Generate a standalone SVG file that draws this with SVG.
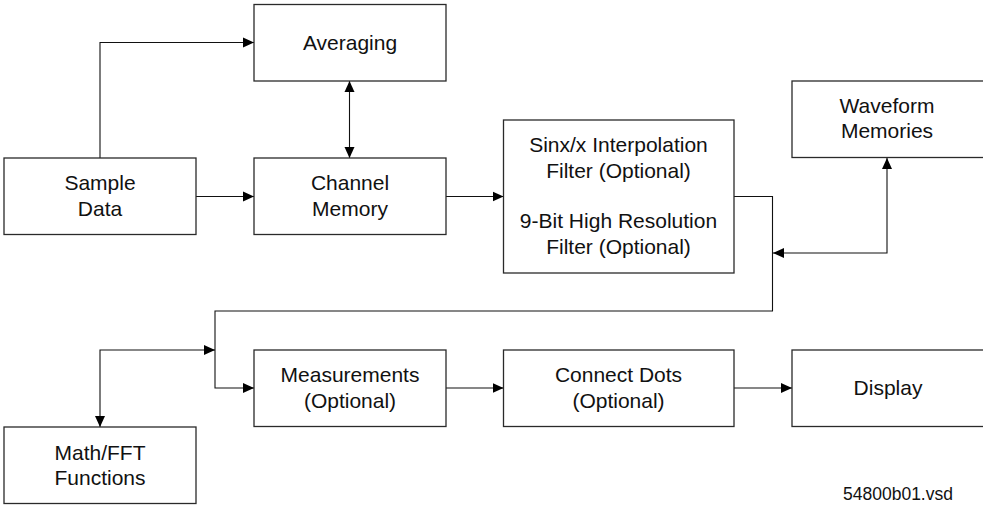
<svg xmlns="http://www.w3.org/2000/svg" width="983" height="506" viewBox="0 0 983 506">
<defs>
<marker id="arr" markerUnits="userSpaceOnUse" markerWidth="12" markerHeight="11" refX="11" refY="5" orient="auto-start-reverse" viewBox="0 0 12 10">
<path d="M0,0 L11,5 L0,10 z" fill="#000"/>
</marker>
<style>
.box{fill:#fff;stroke:#2a2a2a;stroke-width:1.3}
.t{font-family:"Liberation Sans",Arial,sans-serif;font-size:21px;fill:#111;text-anchor:middle}
.c{fill:none;stroke:#111;stroke-width:1.1}
.e{marker-end:url(#arr)}
.b{marker-start:url(#arr);marker-end:url(#arr)}
</style>
</defs>
<rect width="983" height="506" fill="#fff"/>
<g id="connectors">
<path class="c e" d="M100,158 V42.5 H254"/>
<path class="c e" d="M196,196.5 H254"/>
<path class="c b" d="M349.5,81 V158"/>
<path class="c e" d="M446,196.5 H503.5"/>
<path class="c e" d="M734,196.5 H772.5 V311 H215 V388 H254"/>
<path class="c b" d="M773,253 H887 V158"/>
<path class="c b" d="M215,350 H100 V427"/>
<path class="c e" d="M446,388 H503.5"/>
<path class="c e" d="M734,388 H792"/>
</g>
<g id="averaging"><rect class="box" x="254" y="4.5" width="192" height="76.5"/><text class="t" x="350" y="49.5">Averaging</text></g>
<g id="sample-data"><rect class="box" x="4" y="158" width="192" height="76.5"/><text class="t" x="100" y="190">Sample</text><text class="t" x="100" y="216">Data</text></g>
<g id="channel-memory"><rect class="box" x="254" y="158" width="192" height="76.5"/><text class="t" x="350" y="190">Channel</text><text class="t" x="350" y="216">Memory</text></g>
<g id="filter"><rect class="box" x="503.5" y="120" width="230.5" height="153"/><text class="t" x="618.5" y="151.5">Sinx/x Interpolation</text><text class="t" x="618.5" y="177.5">Filter (Optional)</text><text class="t" x="618.5" y="228">9-Bit High Resolution</text><text class="t" x="618.5" y="254">Filter (Optional)</text></g>
<g id="waveform-memories"><rect class="box" x="792" y="81" width="193" height="76.5"/><text class="t" x="887" y="112.5">Waveform</text><text class="t" x="887" y="137.5">Memories</text></g>
<g id="measurements"><rect class="box" x="254" y="350" width="192" height="76.5"/><text class="t" x="350" y="382">Measurements</text><text class="t" x="350" y="407.5">(Optional)</text></g>
<g id="connect-dots"><rect class="box" x="503.5" y="350" width="230.5" height="76.5"/><text class="t" x="618.5" y="382">Connect Dots</text><text class="t" x="618.5" y="408">(Optional)</text></g>
<g id="display"><rect class="box" x="792" y="350" width="193" height="76.5"/><text class="t" x="888" y="394.5">Display</text></g>
<g id="math-fft"><rect class="box" x="4" y="427" width="192" height="76.5"/><text class="t" x="100" y="459.5">Math/FFT</text><text class="t" x="100" y="484.5">Functions</text></g>
<text x="843" y="499.5" style="font-family:'Liberation Sans',Arial,sans-serif;font-size:17.5px;fill:#111">54800b01.vsd</text>
</svg>
